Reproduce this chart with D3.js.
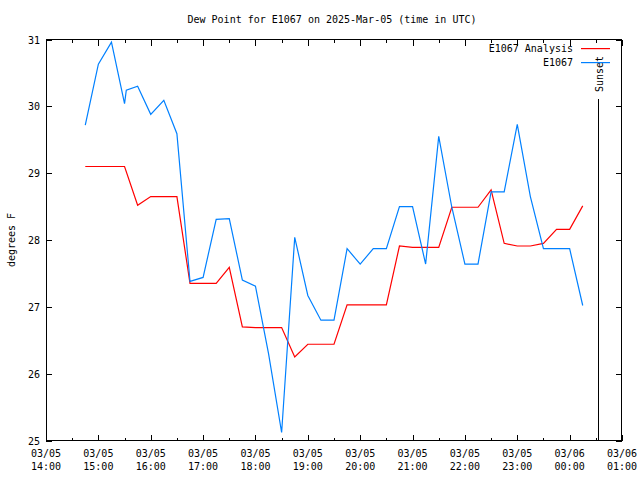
<!DOCTYPE html>
<html><head><meta charset="utf-8">
<script src="https://cdn.jsdelivr.net/npm/d3@7"></script>
<style>body{margin:0;background:#fff}svg{display:block}text{font-family:"DejaVu Sans Mono",monospace;font-size:10px;fill:#000}</style>
</head><body><svg id="c" width="640" height="480"></svg>
<script>
const title = "Dew Point for E1067 on 2025-Mar-05 (time in UTC)";
const yLabel = "degrees F";
const seriesNames = ["E1067 Analysis", "E1067"];
const analysisTimes = ["2025-03-05T14:45","2025-03-05T15:00","2025-03-05T15:15","2025-03-05T15:30","2025-03-05T15:45","2025-03-05T16:00","2025-03-05T16:15","2025-03-05T16:30","2025-03-05T16:45","2025-03-05T17:00","2025-03-05T17:15","2025-03-05T17:30","2025-03-05T17:45","2025-03-05T18:00","2025-03-05T18:15","2025-03-05T18:30","2025-03-05T18:45","2025-03-05T19:00","2025-03-05T19:15","2025-03-05T19:30","2025-03-05T19:45","2025-03-05T20:00","2025-03-05T20:15","2025-03-05T20:30","2025-03-05T20:45","2025-03-05T21:00","2025-03-05T21:15","2025-03-05T21:30","2025-03-05T21:45","2025-03-05T22:00","2025-03-05T22:15","2025-03-05T22:30","2025-03-05T22:45","2025-03-05T23:00","2025-03-05T23:15","2025-03-05T23:30","2025-03-05T23:45","2025-03-06T00:00","2025-03-06T00:15"];
const analysisValues = [29.10,29.10,29.10,29.10,28.52,28.65,28.65,28.65,27.35,27.35,27.35,27.59,26.70,26.69,26.69,26.69,26.25,26.44,26.44,26.44,27.03,27.03,27.03,27.03,27.91,27.89,27.89,27.89,28.49,28.49,28.49,28.75,27.95,27.91,27.91,27.95,28.16,28.16,28.51];
const obsTimes = ["2025-03-05T14:45","2025-03-05T15:00","2025-03-05T15:15","2025-03-05T15:30","2025-03-05T15:32","2025-03-05T15:45","2025-03-05T16:00","2025-03-05T16:15","2025-03-05T16:30","2025-03-05T16:45","2025-03-05T17:00","2025-03-05T17:15","2025-03-05T17:30","2025-03-05T17:45","2025-03-05T18:00","2025-03-05T18:15","2025-03-05T18:30","2025-03-05T18:45","2025-03-05T19:00","2025-03-05T19:15","2025-03-05T19:30","2025-03-05T19:45","2025-03-05T20:00","2025-03-05T20:15","2025-03-05T20:30","2025-03-05T20:45","2025-03-05T21:00","2025-03-05T21:15","2025-03-05T21:30","2025-03-05T21:45","2025-03-05T22:00","2025-03-05T22:15","2025-03-05T22:30","2025-03-05T22:45","2025-03-05T23:00","2025-03-05T23:15","2025-03-05T23:30","2025-03-05T23:45","2025-03-06T00:00","2025-03-06T00:15"];
const obsValues = [29.72,30.63,30.96,30.04,30.24,30.30,29.88,30.09,29.59,27.38,27.44,28.31,28.32,27.40,27.31,26.30,25.12,28.04,27.17,26.80,26.80,27.87,27.64,27.87,27.87,28.50,28.50,27.64,29.55,28.49,27.64,27.64,28.72,28.72,29.73,28.65,27.87,27.87,27.87,27.02];
const yTicks = [25,26,27,28,29,30,31];
const xDomain = ["2025-03-05T14:00","2025-03-06T01:00"];
const sunsetTime = "2025-03-06T00:32";
const sunsetLabel = "Sunset";
const colors = ["#ff0000","#0080ff"];

const P = s => new Date(s + ":00Z");
const svg = d3.select("#c");
const L = 46, R = 622, T = 39.5, B = 440.5;
const x = d3.scaleUtc().domain(xDomain.map(P)).range([L, R]);
const y = d3.scaleLinear().domain([25, 31]).range([B, T]);

svg.append("text").attr("x", 332).attr("y", 23).attr("text-anchor", "middle").text(title);
svg.append("text").attr("transform", "translate(15,240) rotate(-90)").attr("text-anchor", "middle").text(yLabel);

const g = svg.append("g").attr("shape-rendering", "crispEdges");
const hours = d3.utcHour.range(P(xDomain[0]), d3.utcHour.offset(P(xDomain[1]), 1));
const halfs = d3.utcMinute.every(30).range(P(xDomain[0]), P(xDomain[1])).filter(d => d.getUTCMinutes() === 30);
hours.forEach(d => {
  const px = Math.round(x(d)) + 0.5;
  g.append("line").attr("x1", px).attr("x2", px).attr("y1", B).attr("y2", B - 6).attr("stroke", "#000");
  g.append("line").attr("x1", px).attr("x2", px).attr("y1", T).attr("y2", T + 6).attr("stroke", "#000");
  const t = svg.append("text").attr("x", x(d)).attr("y", 457).attr("text-anchor", "middle");
  t.append("tspan").attr("x", x(d)).text(d3.utcFormat("%m/%d")(d));
  t.append("tspan").attr("x", x(d)).attr("dy", 13).text(d3.utcFormat("%H:%M")(d));
});
halfs.forEach(d => {
  const px = Math.round(x(d)) + 0.5;
  g.append("line").attr("x1", px).attr("x2", px).attr("y1", B).attr("y2", B - 3).attr("stroke", "#000");
  g.append("line").attr("x1", px).attr("x2", px).attr("y1", T).attr("y2", T + 3).attr("stroke", "#000");
});
yTicks.forEach(v => {
  const py = Math.round(y(v)) + 0.5;
  g.append("line").attr("x1", L).attr("x2", L + 6).attr("y1", py).attr("y2", py).attr("stroke", "#000");
  g.append("line").attr("x1", R).attr("x2", R - 6).attr("y1", py).attr("y2", py).attr("stroke", "#000");
  svg.append("text").attr("x", 40).attr("y", y(v) + 4).attr("text-anchor", "end").text(v);
});
g.append("rect").attr("x", L + 0.5).attr("y", T).attr("width", R - L - 1).attr("height", B - T).attr("fill", "none").attr("stroke", "#000");

const sx = Math.round(x(P(sunsetTime))) + 0.5;
g.append("line").attr("x1", sx).attr("x2", sx).attr("y1", 99).attr("y2", B).attr("stroke", "#000");
svg.append("text").attr("transform", `translate(${sx + 4},92) rotate(-90)`).attr("text-anchor", "start").text(sunsetLabel);

const line = d3.line().x(d => x(d[0])).y(d => y(d[1]));
const a = analysisTimes.map((t, i) => [P(t), analysisValues[i]]);
const o = obsTimes.map((t, i) => [P(t), obsValues[i]]);
svg.append("path").attr("d", line(a)).style("fill", "none").style("stroke", colors[0]).style("stroke-width", "1.2px");
svg.append("path").attr("d", line(o)).style("fill", "none").style("stroke", colors[1]).style("stroke-width", "1.2px");

seriesNames.forEach((n, i) => {
  const ly = 48 + i * 14;
  svg.append("text").attr("x", 573).attr("y", ly + 4).attr("text-anchor", "end").text(n);
  svg.append("rect").attr("x", 581).attr("y", ly).attr("width", 29).attr("height", 1.2).style("fill", colors[i]).style("stroke", "none");
});
</script></body></html>
